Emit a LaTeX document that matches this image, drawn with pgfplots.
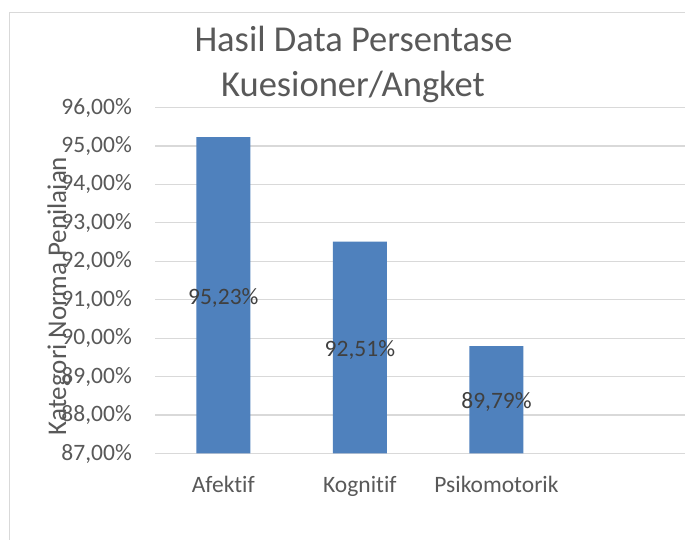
\documentclass[border=0pt]{standalone}
\usepackage{pgfplots}
\pgfplotsset{compat=1.18}
\usepackage{fontspec}
\setmainfont{Carlito}[Ligatures=NoCommon]
\definecolor{txt}{HTML}{595959}
\definecolor{lbl}{HTML}{404040}
\definecolor{gridc}{HTML}{D9D9D9}
\definecolor{barc}{HTML}{4F81BD}
\begin{document}
\begin{tikzpicture}
\useasboundingbox (0,0) rectangle (685bp,540bp);
\fill[white] (0,0) rectangle (685bp,540bp);
\draw[gridc, line width=1bp] (9bp,0) -- (9bp,527.5bp) -- (686bp,527.5bp);
\begin{axis}[
  at={(155bp,86.5bp)}, anchor=south west,
  scale only axis, width=530bp, height=346bp,
  xmin=-0.5, xmax=3.38, ymin=87, ymax=96,
  ytick={87,88,...,96}, xtick={0,1,2},
  xticklabels={Afektif,Kognitif,Psikomotorik},
  ymajorgrids, grid style={draw=gridc, line width=1.2bp},
  axis line style={draw=none}, major tick length=0pt,
  /pgf/number format/assume math mode=true,
  yticklabel={\pgfmathprintnumber[fixed,fixed zerofill,precision=2,use comma]{\tick}\%},
  ticklabel style={font=\fontsize{23.5bp}{28bp}\selectfont, text=txt, inner sep=0pt},
  yticklabel style={anchor=east, xshift=-23bp},
  xticklabel style={anchor=base, yshift=-39bp},
  ybar, bar width=54bp, clip=true,
]
\addplot[fill=barc, draw=none] coordinates {(0,95.23) (1,92.51) (2,89.79)};
\node[font=\fontsize{23.5bp}{28bp}\selectfont, text=lbl, yshift=-2.5bp] at (axis cs:0,91.115) {95,23\%};
\node[font=\fontsize{23.5bp}{28bp}\selectfont, text=lbl, yshift=-2.5bp] at (axis cs:1,89.755) {92,51\%};
\node[font=\fontsize{23.5bp}{28bp}\selectfont, text=lbl, yshift=-2.5bp] at (axis cs:2,88.395) {89,79\%};
\end{axis}
\node[font=\fontsize{36.5bp}{44bp}\selectfont, text=txt, anchor=base] at (353.5bp,488bp) {Hasil Data Persentase};
\node[font=\fontsize{36.5bp}{44bp}\selectfont, text=txt, anchor=base] at (353bp,443bp) {Kuesioner/Angket};
\node[rotate=90, font=\fontsize{27bp}{30bp}\selectfont, text=txt] at (59bp,244bp) {Kategori Norma Penilaian};
\end{tikzpicture}
\end{document}
